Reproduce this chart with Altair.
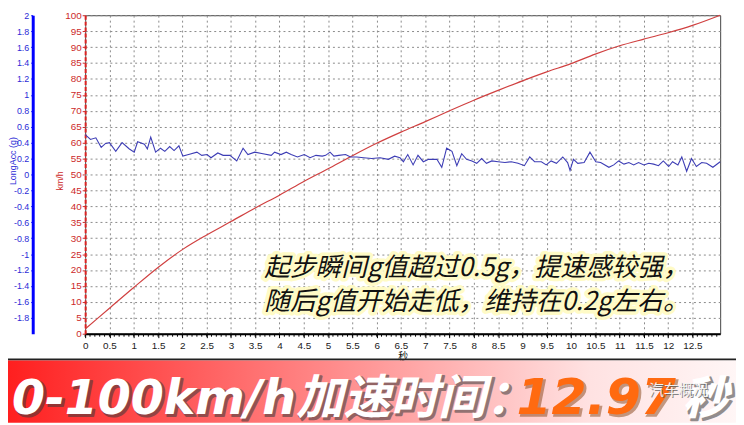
import altair as alt
import pandas as pd

# ---------------- data ----------------
speed_t = [0, 0.5, 1.0, 1.5, 2.0, 2.5, 3.0, 3.5, 4.0, 4.5, 5.0, 5.5, 6.0, 6.5,
           7.0, 7.5, 8.0, 8.5, 9.0, 9.5, 10.0, 10.5, 11.0, 11.5, 12.0, 12.5, 13.07]
speed_kmh = [1.5, 8.0, 14.5, 20.8, 26.4, 31.0, 35.2, 39.5, 43.5, 47.8, 51.8, 55.9, 59.8, 63.3,
             66.6, 70.0, 73.3, 76.4, 79.4, 82.2, 84.8, 87.8, 90.4, 92.5, 94.5, 96.8, 100.0]

acc_t = [0.0, 0.11, 0.22, 0.33, 0.42, 0.50, 0.63, 0.76, 0.91, 1.01,
         1.08, 1.22, 1.28, 1.35, 1.45, 1.55, 1.64, 1.74, 1.83, 1.93,
         2.01, 2.13, 2.30, 2.40, 2.51, 2.59, 2.73, 2.84, 2.98, 3.12,
         3.25, 3.35, 3.49, 3.66, 3.83, 3.90, 4.03, 4.14, 4.24, 4.37,
         4.51, 4.63, 4.75, 4.88, 4.95, 5.04, 5.12, 5.22, 5.36, 5.46,
         5.59, 5.73, 5.90, 6.07, 6.24, 6.37, 6.48, 6.55, 6.64, 6.75,
         6.85, 6.96, 7.07, 7.24, 7.34, 7.44, 7.55, 7.65, 7.75, 7.85,
         7.96, 8.06, 8.16, 8.26, 8.37, 8.50, 8.64, 8.77, 8.91, 9.04,
         9.15, 9.25, 9.39, 9.49, 9.59, 9.70, 9.83, 9.93, 9.98, 10.05,
         10.14, 10.27, 10.39, 10.51, 10.61, 10.78, 10.88, 10.98, 11.09, 11.19,
         11.29, 11.39, 11.50, 11.60, 11.70, 11.80, 11.90, 12.01, 12.09, 12.20,
         12.28, 12.38, 12.48, 12.58, 12.69, 12.79, 12.92, 13.07]
acc_g = [0.50, 0.44, 0.46, 0.34, 0.39, 0.40, 0.29, 0.40, 0.32, 0.28,
         0.41, 0.38, 0.32, 0.47, 0.28, 0.33, 0.29, 0.35, 0.30, 0.36,
         0.23, 0.25, 0.28, 0.24, 0.25, 0.21, 0.27, 0.24, 0.24, 0.17,
         0.33, 0.25, 0.28, 0.26, 0.24, 0.28, 0.25, 0.28, 0.25, 0.22,
         0.25, 0.21, 0.24, 0.23, 0.24, 0.28, 0.23, 0.24, 0.25, 0.22,
         0.22, 0.21, 0.20, 0.21, 0.19, 0.23, 0.21, 0.16, 0.25, 0.12,
         0.24, 0.16, 0.19, 0.19, 0.09, 0.33, 0.29, 0.11, 0.26, 0.19,
         0.17, 0.14, 0.20, 0.14, 0.17, 0.16, 0.15, 0.16, 0.14, 0.11,
         0.22, 0.16, 0.16, 0.12, 0.17, 0.14, 0.22, 0.15, 0.05, 0.19,
         0.14, 0.15, 0.28, 0.16, 0.15, 0.09, 0.12, 0.17, 0.13, 0.15,
         0.12, 0.15, 0.12, 0.14, 0.13, 0.11, 0.17, 0.10, 0.16, 0.12,
         0.22, 0.04, 0.20, 0.10, 0.15, 0.14, 0.09, 0.16]

x_tick_values = [0, 0.5, 1, 1.5, 2, 2.5, 3, 3.5, 4, 4.5, 5, 5.5, 6, 6.5, 7, 7.5,
                 8, 8.5, 9, 9.5, 10, 10.5, 11, 11.5, 12, 12.5]
minor_tick_values = [round(i * 0.1, 1) for i in range(131)]
speed_tick_values = [0, 5, 10, 15, 20, 25, 30, 35, 40, 45, 50, 55, 60, 65, 70, 75, 80, 85, 90, 95, 100]
acc_tick_values = [2, 1.8, 1.6, 1.4, 1.2, 1, 0.8, 0.6, 0.4, 0.2, 0, -0.2, -0.4, -0.6,
                   -0.8, -1, -1.2, -1.4, -1.6, -1.8]

x_title = "秒"
speed_title = "km/h"
acc_title = "LongAcc (g)"
annotation_lines = ["起步瞬间g值超过0.5g，提速感较强，", "随后g值开始走低，维持在0.2g左右。"]
banner_label = "0-100km/h加速时间："
banner_time = "12.97"
banner_unit = "秒"
watermark = "汽车概况"

# ---------------- chart ----------------
W, H = 642, 322
TOP = 5
XMAX = 13.07
RED = "#cc2a2a"
BLUE = "#2b2bd6"

speed_df = pd.DataFrame({"t": speed_t, "v": speed_kmh})
acc_df = pd.DataFrame({"t": acc_t, "g": acc_g})
minor_df = pd.DataFrame({"t": minor_tick_values})

x_axis = alt.Axis(
    values=x_tick_values, labelFlush=False, labelOverlap=False,
    labelExpr="format(datum.value, '~g')",
    title=x_title,
    titleFont="Noto Sans CJK SC", titleFontSize=10, titleFontWeight="normal",
    titlePadding=1, titleColor="#111",
    labelFont="Liberation Sans", labelFontSize=10, labelColor="#222", labelPadding=3,
    tickColor="#000", tickSize=4, domainColor="#000", domainWidth=2,
    grid=True, gridColor="#8a8a8a", gridDash=[2, 3], gridWidth=1,
)
x_scale = alt.Scale(domain=[0, XMAX], nice=False, zero=False)
x_enc = alt.X("t:Q", scale=x_scale, axis=x_axis)

speed_line = alt.Chart(speed_df).mark_line(
    color="#d04040", strokeWidth=1.2, interpolate="monotone"
).encode(
    x=x_enc,
    y=alt.Y(
        "v:Q",
        scale=alt.Scale(domain=[0, 100], nice=False),
        axis=alt.Axis(
            orient="left", values=speed_tick_values, title=speed_title,
            labelOverlap=False,
            titleColor=RED, titleFont="Liberation Sans", titleFontSize=9,
            titleFontWeight="normal", titleAngle=-90, titleX=-26, titleY=167,
            titleAlign="center", titleBaseline="middle",
            labelFont="Liberation Sans", labelFontSize=10, labelColor=RED, labelPadding=1,
            tickColor=RED, tickSize=3,
            domainColor="#dd2222", domainWidth=2, domainDash=[4, 2],
            grid=True, gridColor="#8a8a8a", gridDash=[2, 3], gridWidth=1,
        ),
    ),
)

acc_line = alt.Chart(acc_df).mark_line(color="#3d3db5", strokeWidth=1.1).encode(
    x=x_enc,
    y=alt.Y(
        "g:Q",
        scale=alt.Scale(domain=[-2, 2], nice=False, zero=False),
        axis=alt.Axis(
            orient="left", offset=53, values=acc_tick_values, title=acc_title,
            labelOverlap=False,
            labelExpr="replace(format(datum.value, '.1~f'), '\u2212', '-')",
            titleColor=BLUE, titleFont="Liberation Sans", titleFontSize=9,
            titleFontWeight="normal", titleAngle=-90, titleX=-20, titleY=147,
            titleAlign="center", titleBaseline="middle",
            labelFont="Liberation Sans", labelFontSize=9, labelColor=BLUE, labelPadding=2,
            tickColor="#0000ff", tickSize=2,
            domainColor="#0000ff", domainWidth=3, grid=False,
        ),
    ),
)

minor_ticks = alt.Chart(minor_df).mark_rule(color="#000", strokeWidth=1).encode(
    x=x_enc, y=alt.value(H + 1), y2=alt.value(H + 3)
)

one = pd.DataFrame({"k": [0]})


def text_layer(label, x, y, **kw):
    return alt.Chart(pd.DataFrame({"label": [label]})).mark_text(
        align="left", baseline="alphabetic", **kw
    ).encode(x=alt.value(x), y=alt.value(y), text="label:N")


# banner (chart y = page y - 13)
banner_line = alt.Chart(one).mark_rule(color="#222", strokeWidth=2).encode(
    x=alt.value(-78), x2=alt.value(658), y=alt.value(348)
)
banner_rect = alt.Chart(one).mark_rect(
    color=alt.Gradient(
        gradient="linear",
        stops=[
            alt.GradientStop(color="#ff1f1f", offset=0),
            alt.GradientStop(color="#ff8c8c", offset=0.45),
            alt.GradientStop(color="#ffe2e2", offset=0.8),
            alt.GradientStop(color="#fff6f6", offset=1),
        ],
        x1=0, x2=1, y1=0, y2=0,
    )
).encode(x=alt.value(-78), x2=alt.value(658), y=alt.value(349), y2=alt.value(412))

BIG_FONT = "DejaVu Sans, Noto Sans CJK SC"
CJK = "Noto Sans CJK SC"
shadow = dict(color="#3a3a3a", stroke="#3a3a3a", strokeWidth=2, strokeJoin="round", opacity=0.55)
banner_layers = [
    text_layer(banner_label, -72, 405, font=BIG_FONT, fontSize=48, fontWeight="bold",
               fontStyle="italic", **shadow),
    text_layer(banner_label, -74, 403, font=BIG_FONT, fontSize=48, fontWeight="bold",
               fontStyle="italic", color="#ffffff"),
    text_layer(banner_time, 438, 405, font=BIG_FONT, fontSize=51, fontWeight="bold",
               fontStyle="italic", color="#7a3300", stroke="#7a3300", strokeWidth=1.5,
               opacity=0.45),
    text_layer(banner_time, 436, 403, font=BIG_FONT, fontSize=51, fontWeight="bold",
               fontStyle="italic", color="#ff6a10"),
    text_layer(banner_unit, 606, 405, font=CJK, fontSize=46, fontWeight=900,
               fontStyle="italic", **shadow),
    text_layer(banner_unit, 604, 403, font=CJK, fontSize=46, fontWeight=900,
               fontStyle="italic", color="#ffffff"),
    text_layer(watermark, 571, 385, font=CJK, fontSize=15,
               color="#555", opacity=0.7),
    text_layer(watermark, 570, 384, font=CJK, fontSize=15,
               color="#f2f2f2"),
]

# annotation with a light yellow halo
ann_layers = []
for i, line in enumerate(annotation_lines):
    y = 264 + 34 * i
    ann_layers.append(text_layer(line, 181, y, font=CJK, fontSize=26,
                                 fontStyle="italic", color="#fffbc4", stroke="#fffbc4",
                                 strokeWidth=7, strokeJoin="round", opacity=0.95))
for i, line in enumerate(annotation_lines):
    y = 264 + 34 * i
    ann_layers.append(text_layer(line, 181, y, font=CJK, fontSize=26,
                                 fontStyle="italic", color="#111111"))

chart = alt.layer(
    speed_line, acc_line, minor_ticks, banner_line, banner_rect, *banner_layers, *ann_layers
).resolve_scale(y="independent").properties(
    width=W, height=H,
    autosize=alt.AutoSizeParams(type="none"),
    padding={"left": 78, "top": TOP, "right": 16, "bottom": 90},
    background="#ffffff",
).configure_view(stroke="#444", strokeWidth=1)

chart.save("out.html", embed_options={"renderer": "svg", "actions": False})
